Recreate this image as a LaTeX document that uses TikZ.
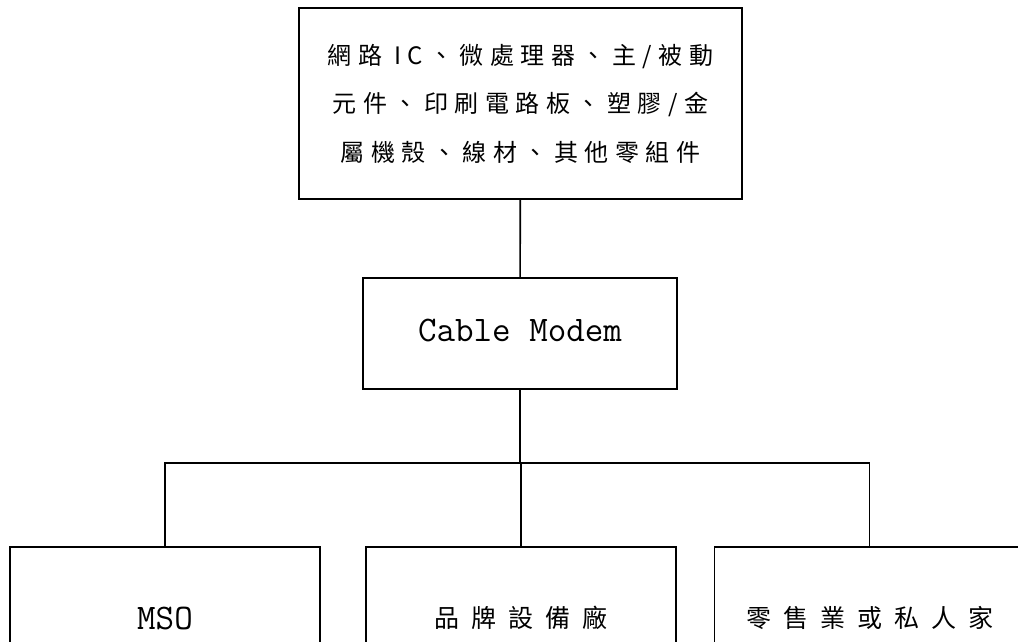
\documentclass[tikz,border=0pt]{standalone}
\usepackage{fontspec}
\usepackage{tikz}
\newfontfamily\cjk{Noto Sans CJK TC}
\setmonofont{Latin Modern Mono}

\begin{document}
\begin{tikzpicture}[x=1pt,y=-1pt,line width=1.6pt,
  box/.style={draw,inner sep=0pt,align=center},
  wide/.style={box,minimum width=310pt,minimum height=142pt},
  latin/.style={font=\fontsize{36}{40}\ttfamily},
  hanzi/.style={font=\fontsize{25}{30}\cjk\addfontfeature{LetterSpace=48}}]

\clip (0,0) rectangle (1018,642);
\fill [white] (0,0) rectangle (1018,642);

\node [box,minimum width=443pt,minimum height=191pt,
  font=\fontsize{24}{48.5}\cjk\addfontfeature{LetterSpace=27}] (parts) at (520.5,103.5)
  {網路 IC、微處理器、主/被動\\
   元件、印刷電路板、塑膠/金\\
   屬機殼、線材、其他零組件};

\node [box,latin,minimum width=314pt,minimum height=111pt] (modem) at (520,333.5)
  {\raisebox{6pt}{Cable Modem}};

\node [wide,latin] (mso) at (165,618) {MSO};
\node [wide,hanzi] (brand) at (521,618) {品牌設備廠};
\node [wide,hanzi] (retail) at (869.5,618) {零售業或私人家};

\draw (parts) -- (modem);
\draw (modem.south) -- ++(0,73) coordinate (split);
\draw (mso.north) |- (split) -| (retail.north);
\draw (split) -- (split -| brand.north) -- (brand.north);

\end{tikzpicture}
\end{document}
